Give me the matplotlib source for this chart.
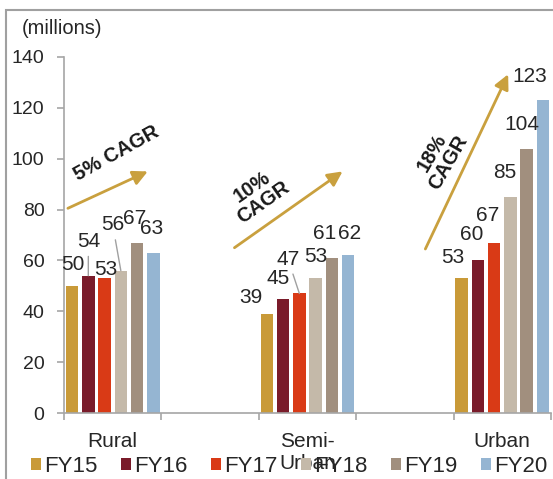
import matplotlib
matplotlib.use('Agg')
import matplotlib.pyplot as plt
from matplotlib.patches import Patch, Rectangle

plt.rcParams['font.family'] = ['Liberation Sans', 'DejaVu Sans']

# ---------------- data ----------------
categories = ['Rural', 'Semi-\nUrban', 'Urban']
years = ['FY15', 'FY16', 'FY17', 'FY18', 'FY19', 'FY20']
fy15 = [50, 39, 53]
fy16 = [54, 45, 60]
fy17 = [53, 47, 67]
fy18 = [56, 53, 85]
fy19 = [67, 61, 104]
fy20 = [63, 62, 123]
cagr_labels = ['5% CAGR', '10%\nCAGR', '18%\nCAGR']
yticks = [0, 20, 40, 60, 80, 100, 120, 140]

series = [fy15, fy16, fy17, fy18, fy19, fy20]
colors = ['#C99A38', '#7A1B2A', '#D93A16', '#C4B9A9', '#A18F7E', '#95B5D2']

# ---------------- layout (positions only) ----------------
slots = [0, 2, 4]                # category slot on a 5-slot axis
pitch = 0.167
bar_w = 0.128
# label centres (x in slot units, y in data units), per category per series
label_pos = [
    [(-0.41, 58.5), (-0.25, 67.5), (-0.07, 56.5), (0.0, 74.0), (0.23, 76.5), (0.40, 72.5)],
    [(1.42, 45.5), (1.70, 53.0), (1.80, 60.5), (2.08, 61.5), (2.18, 70.5), (2.43, 70.5)],
    [(3.49, 61.0), (3.69, 70.0), (3.85, 77.5), (4.03, 94.5), (4.20, 113.5), (4.28, 132.3)],
]
leaders = {(0, 1), (0, 3), (1, 2)}
arrows = [((-0.46, 80.5), (0.36, 95.0)),
          ((1.25, 65.0), (2.36, 95.0)),
          ((3.21, 64.5), (4.06, 133.2))]
cagr_text = [((0.04, 102.0), 29), ((1.49, 86.0), 35), ((3.36, 100.5), 60)]

gold = '#C9A03E'
axis_grey = '#A6A6A6'
txt = '#262626'

fig = plt.figure(figsize=(5.53, 4.79), dpi=100)
ax = fig.add_axes([64/553, 66/479, 487/553, 356/479])
ax.set_xlim(-0.5, 4.5)
ax.set_ylim(0, 140)

for i, (vals, col) in enumerate(zip(series, colors)):
    xs = [s + (i - 2.5) * pitch for s in slots]
    ax.bar(xs, vals, width=bar_w, color=col, label=years[i], zorder=2)
    for c, (x, v) in enumerate(zip(xs, vals)):
        lx, ly = label_pos[c][i]
        if (c, i) in leaders:
            ax.annotate(str(v), xy=(x, v), xytext=(lx, ly), ha='center', va='center',
                        fontsize=15, color=txt,
                        arrowprops=dict(arrowstyle='-', color='#A0A0A0', lw=1,
                                        shrinkA=2, shrinkB=0))
        else:
            ax.text(lx, ly, str(v), ha='center', va='center', fontsize=15, color=txt)

for (start, end) in arrows:
    ax.annotate('', xy=end, xytext=start,
                arrowprops=dict(arrowstyle='-|>', color=gold, lw=2, mutation_scale=22,
                                shrinkA=0, shrinkB=0))

for lab, ((x, y), rot) in zip(cagr_labels, cagr_text):
    ax.text(x, y, lab, rotation=rot, ha='center', va='center', rotation_mode='anchor',
            fontsize=14.5, fontweight='bold', color='#1a1a1a', multialignment='center',
            linespacing=1.0)

# axes styling
for sp in ['top', 'right']:
    ax.spines[sp].set_visible(False)
for sp in ['left', 'bottom']:
    ax.spines[sp].set_color(axis_grey)
    ax.spines[sp].set_linewidth(1.2)
ax.set_yticks(yticks)
ax.tick_params(axis='y', length=5, width=1.2, color=axis_grey, pad=9,
               labelsize=14, labelcolor=txt)
ax.set_xticks(slots)
ax.set_xticklabels(categories)
ax.tick_params(axis='x', which='major', length=0, pad=14, labelsize=15, labelcolor=txt)
ax.set_xticks([-0.5, 0.5, 1.5, 2.5, 3.5, 4.5], minor=True)
ax.tick_params(axis='x', which='minor', length=5, width=1.2, color=axis_grey, direction='out')

fig.text(22/553, 1 - 28/479, '(millions)', ha='left', va='center', fontsize=14.5, color=txt)

handles = [Patch(facecolor=c) for c in colors]
fig.legend(handles, years, loc='center', bbox_to_anchor=(0.523, 0.027), ncol=6,
           frameon=False, handlelength=0.45, handleheight=0.45, handletextpad=0.15,
           columnspacing=1.05, fontsize=16, borderaxespad=0, borderpad=0,
           labelcolor=txt)

fig.patches.append(Rectangle((6/553, -0.1), 1.2, 1.1 - 10/479, transform=fig.transFigure,
                             fill=False, edgecolor='#A0A0A0', linewidth=1.5))

fig.savefig('out.png', dpi=100)
